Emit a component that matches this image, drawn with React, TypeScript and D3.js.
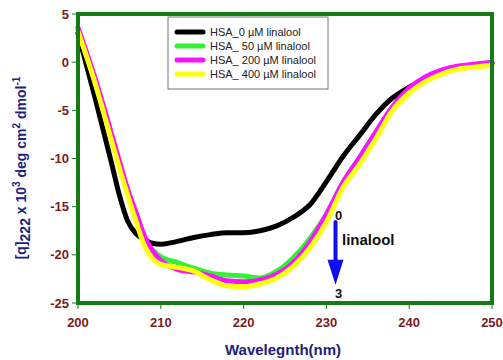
import React from 'react';
import * as d3 from 'd3';

// wavelengths (nm) shared by all spectra
const wavelengths = [200, 202, 204, 205, 206, 207, 208, 209, 210, 212, 214, 216, 218, 220, 222, 224, 226, 228, 230, 232, 234, 236, 238, 240, 242, 244, 246, 248, 250];

const hsa0 = [3.0, -3.5, -10.3, -13.8, -16.5, -17.8, -18.4, -18.8, -18.9, -18.6, -18.2, -17.9, -17.7, -17.7, -17.5, -17.0, -16.1, -14.8, -12.4, -9.8, -7.6, -5.4, -3.7, -2.6, -1.7, -1.0, -0.5, -0.3, -0.1];
const hsa50 = [3.3, -1.8, -7.7, -10.7, -13.5, -16.2, -18.5, -19.5, -20.2, -20.8, -21.4, -21.9, -22.1, -22.2, -22.4, -21.7, -20.3, -18.3, -15.8, -12.5, -9.9, -7.3, -4.8, -2.9, -1.7, -1.0, -0.6, -0.4, -0.2];
const hsa200 = [3.6, -1.5, -7.3, -10.3, -13.2, -15.6, -18.0, -19.6, -20.6, -21.5, -21.8, -22.2, -22.7, -22.8, -22.6, -22.0, -20.8, -18.7, -15.8, -12.5, -9.9, -7.2, -4.6, -2.7, -1.5, -0.8, -0.4, -0.2, 0.0];
const hsa400 = [3.2, -2.0, -8.0, -11.0, -13.8, -16.5, -19.0, -20.4, -21.0, -21.3, -21.7, -22.6, -23.2, -23.3, -23.0, -22.4, -21.2, -19.3, -16.6, -13.0, -10.6, -7.9, -5.0, -3.2, -2.0, -1.2, -0.7, -0.5, -0.3];

const seriesNames = ['HSA_0 µM linalool', 'HSA_ 50 µM linalool', 'HSA_ 200 µM linalool', 'HSA_ 400 µM linalool'];
const seriesValues = [hsa0, hsa50, hsa200, hsa400];
const seriesColors = ['#000000', '#33f233', '#ff10ff', '#ffff10'];

const xTicks = [200, 210, 220, 230, 240, 250];
const yTicks = [5, 0, -5, -10, -15, -20, -25];

const W = 503;
const H = 360;
const frame = { left: 78, right: 492, top: 14, bottom: 303 };

export default function App() {
  const x = d3.scaleLinear().domain([200, 250]).range([frame.left, frame.right]);
  const y = d3.scaleLinear().domain([-25, 5]).range([frame.bottom, frame.top]);

  const line = d3
    .line<number>()
    .x((_, i) => x(wavelengths[i]))
    .y((d) => y(d))
    .curve(d3.curveMonotoneX);

  const tickColor = '#7a1c1c';
  const titleColor = '#1c237a';
  const green = '#167a16';

  // arrow position in data units
  const arrowX = 231.1;
  const arrowTop = y(-16.6);
  const arrowTip = y(-23.1);
  const headTop = y(-20.5);

  return (
    <svg width={W} height={H} style={{ position: 'absolute', left: 0, top: 0, background: '#fff' }} fontFamily="Liberation Sans, Arial, sans-serif">
      {/* curves */}
      <g fill="none" strokeWidth={5} strokeLinejoin="round" strokeLinecap="round">
        {seriesValues.map((vals, i) => (
          <path key={i} d={line(vals) || ''} stroke={seriesColors[i]} />
        ))}
      </g>

      {/* frame */}
      <rect
        x={frame.left}
        y={frame.top}
        width={frame.right - frame.left}
        height={frame.bottom - frame.top}
        fill="none"
        stroke={green}
        strokeWidth={4}
      />

      {/* x ticks */}
      {xTicks.map((t) => (
        <g key={t}>
          <line x1={x(t)} x2={x(t)} y1={frame.bottom} y2={frame.bottom + 6} stroke={green} strokeWidth={1} />
          <text x={x(t)} y={327} textAnchor="middle" fontSize={13} fontWeight="bold" fill={tickColor}>
            {t}
          </text>
        </g>
      ))}

      {/* y ticks */}
      {yTicks.map((t) => (
        <g key={t}>
          <line x1={frame.left - 6} x2={frame.left} y1={y(t)} y2={y(t)} stroke={green} strokeWidth={1} />
          <text x={69} y={y(t) + 4.5} textAnchor="end" fontSize={13} fontWeight="bold" fill={tickColor}>
            {t}
          </text>
        </g>
      ))}

      {/* axis titles */}
      <text x={283} y={355} textAnchor="middle" fontSize={15} fontWeight="bold" fill={titleColor}>
        Wavelegnth(nm)
      </text>
      <text
        transform="translate(26,168) rotate(-90)"
        textAnchor="middle"
        fontSize={14}
        fontWeight="bold"
        fill={titleColor}
      >
        [q]
        <tspan dy={4}>222</tspan>
        <tspan dy={-4}> x 10</tspan>
        <tspan dy={-6} fontSize={10}>3</tspan>
        <tspan dy={6}> deg cm</tspan>
        <tspan dy={-6} fontSize={10}>2</tspan>
        <tspan dy={6}> dmol</tspan>
        <tspan dy={-6} fontSize={10}>-1</tspan>
      </text>

      {/* legend */}
      <rect x={168} y={17} width={160} height={72} fill="#fff" stroke="#777" strokeWidth={1} />
      {seriesNames.map((name, i) => (
        <g key={name}>
          <line x1={177} x2={203} y1={32 + i * 14} y2={32 + i * 14} stroke={seriesColors[i]} strokeWidth={5} strokeLinecap="round" />
          <text x={210} y={36 + i * 14} fontSize={11} fill="#222">
            {name}
          </text>
        </g>
      ))}

      {/* annotation arrow */}
      <line x1={x(arrowX)} x2={x(arrowX)} y1={arrowTop} y2={headTop + 2} stroke="#1010ee" strokeWidth={4} strokeLinecap="round" />
      <path
        d={`M${x(arrowX) - 8},${headTop} L${x(arrowX) + 8},${headTop} L${x(arrowX)},${arrowTip} Z`}
        fill="#1010ee"
      />
      <text x={x(arrowX) + 3} y={220} textAnchor="middle" fontSize={13} fontWeight="bold" fill="#111">
        0
      </text>
      <text x={x(arrowX) + 3} y={298} textAnchor="middle" fontSize={13} fontWeight="bold" fill="#111">
        3
      </text>
      <text x={342} y={245} fontSize={15} fontWeight="bold" fill="#111">
        linalool
      </text>
    </svg>
  );
}
